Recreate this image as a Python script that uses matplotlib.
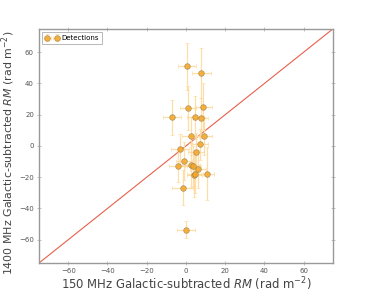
import numpy as np
import matplotlib
matplotlib.use('Agg')
import matplotlib.pyplot as plt

# RM values (rad m^-2)
rm_150 = [0.4, 7.8, 0.9, 8.9, -7.0, 4.8, 7.5, 2.4, 9.1, 7.3, -2.9, 5.1,
          -0.9, -4.1, 2.6, 3.7, 6.3, 10.9, 4.3, 4.6, -1.7, 0.0]
rm_1400 = [51.0, 46.5, 24.3, 25.0, 18.3, 18.3, 17.9, 6.3, 6.3, 1.1, -2.1, -3.9,
           -9.5, -12.9, -12.3, -12.7, -14.6, -17.9, -18.5, -18.0, -26.6, -53.7]
err_150 = [4.5, 4.8, 4.0, 4.5, 4.5, 4.5, 4.0, 4.5, 4.0, 4.0, 4.5, 4.0,
           4.0, 4.5, 4.5, 4.0, 4.0, 3.3, 4.0, 4.0, 5.5, 4.4]
err_1400 = [15.0, 16.0, 14.0, 15.0, 11.0, 14.0, 13.0, 12.0, 12.0, 10.0, 10.0, 12.0,
            12.0, 10.0, 14.0, 13.0, 12.0, 17.0, 14.0, 12.0, 11.0, 5.5]

lim = [-75, 75]
ticks = [-60, -40, -20, 0, 20, 40, 60]

fig = plt.figure(figsize=(3.7, 2.94), dpi=100)
ax = fig.add_axes([0.105, 0.105, 0.795, 0.797])

ax.plot(lim, lim, color='#e8604c', lw=0.8, zorder=1)
ax.errorbar(rm_150, rm_1400, xerr=err_150, yerr=err_1400, fmt='o',
            color='#f5a623', ecolor='#fdd99a', elinewidth=0.9, capsize=1.5,
            capthick=0.9, ms=4, mec='#a0804a', mew=0.5, alpha=0.85,
            label='Detections', zorder=2)

ax.set_xlim(lim)
ax.set_ylim(lim)
ax.set_xticks(ticks)
ax.set_yticks(ticks)
ax.tick_params(labelsize=5, colors='#aaaaaa', labelcolor='#555555',
               direction='inout', length=3, width=0.5, pad=2,
               top=True, right=True)
for s in ax.spines.values():
    s.set_color('#999999')
    s.set_linewidth(1.0)

ax.set_xlabel(r'150 MHz Galactic-subtracted $RM$ (rad m$^{-2}$)',
              fontsize=8.4, color='#444444', labelpad=1)
ax.set_ylabel(r'1400 MHz Galactic-subtracted $RM$ (rad m$^{-2}$)',
              fontsize=7.9, color='#444444', labelpad=0)
ax.yaxis.set_label_coords(-0.074, 0.47)

leg = ax.legend(loc='upper left', numpoints=2, fontsize=5, frameon=True,
                fancybox=False, borderpad=0.4, handletextpad=0.4,
                borderaxespad=0.5)
leg.get_frame().set_edgecolor('#999999')
leg.get_frame().set_linewidth(0.6)

fig.savefig('out.png', dpi=100)
